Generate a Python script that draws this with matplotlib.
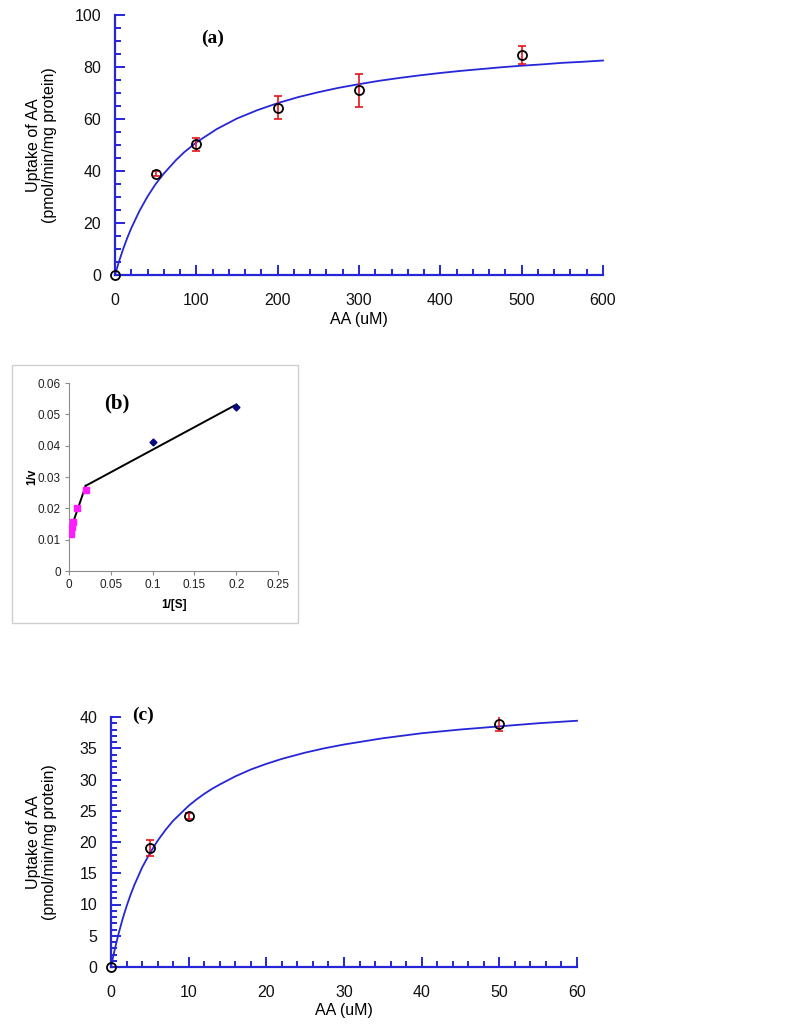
import matplotlib
matplotlib.use("Agg")
import matplotlib.pyplot as plt
from matplotlib.patches import Rectangle
from matplotlib.ticker import MultipleLocator

plt.rcParams['font.family'] = ['Liberation Sans', 'DejaVu Sans']

# ---------------- data ----------------
# panel (a)
a_conc = [0, 50, 100, 200, 300, 500]
a_uptake = [0, 38.9, 50.2, 64.4, 71.1, 84.6]
a_err = [0, 1.0, 2.4, 4.4, 6.4, 3.5]
a_fit_x = [0, 2, 5, 10, 15, 20, 30, 40, 50, 60, 75, 85, 100, 125, 150, 175, 200, 225, 250,
           275, 300, 325, 350, 375, 400, 425, 450, 475, 500, 525, 550, 575, 600]
a_fit_y = [0, 2.17, 5.25, 9.95, 14.2, 18.0, 24.6, 30.2, 35.0, 39.0, 44.2, 47.2, 51.0, 56.1,
           60.2, 63.4, 66.1, 68.4, 70.3, 72.0, 73.4, 74.7, 75.8, 76.8, 77.7, 78.5, 79.2,
           79.9, 80.5, 81.0, 81.6, 82.0, 82.5]

# panel (b) Lineweaver-Burk
b_sq_x = [0.002, 0.0033, 0.005, 0.01, 0.02]
b_sq_y = [0.0119, 0.0141, 0.0155, 0.0200, 0.0257]
b_dm_x = [0.1, 0.2]
b_dm_y = [0.0412, 0.0523]
b_line1_x = [0.001, 0.02]
b_line1_y = [0.0125, 0.0272]
b_line2_x = [0.02, 0.2]
b_line2_y = [0.0272, 0.0531]

# panel (c)
c_conc = [0, 5, 10, 50]
c_uptake = [0, 19.0, 24.2, 38.9]
c_err = [0, 1.3, 0.5, 1.2]
c_fit_x = [0, 0.25, 0.5, 1, 1.5, 2, 2.5, 3, 4, 5, 6, 7, 8, 10, 11, 12, 13, 14, 16, 18, 20,
           22, 25, 27.5, 30, 35, 40, 45, 50, 55, 60]
c_fit_y = [0, 1.5, 2.9, 5.45, 7.7, 9.7, 11.5, 13.1, 15.9, 18.2, 20.2, 21.9, 23.4, 25.8,
           26.8, 27.7, 28.5, 29.2, 30.5, 31.6, 32.5, 33.3, 34.3, 35.0, 35.6, 36.6, 37.4,
           38.0, 38.5, 39.0, 39.4]

BLUE = '#2626d9'
W, H = 800, 1025
fig = plt.figure(figsize=(W / 100, H / 100), dpi=100)


def px_axes(l, r, t, b):
    return fig.add_axes([l / W, 1 - b / H, (r - l) / W, (b - t) / H])


def style_mm(ax, xmax, ymax, xmaj, xmin, ymaj, ymin):
    ax.set_xlim(0, xmax)
    ax.set_ylim(0, ymax)
    for s in ['top', 'right']:
        ax.spines[s].set_visible(False)
    for s in ['left', 'bottom']:
        ax.spines[s].set_color(BLUE)
        ax.spines[s].set_linewidth(1.6)
    ax.xaxis.set_major_locator(MultipleLocator(xmaj))
    ax.xaxis.set_minor_locator(MultipleLocator(xmin))
    ax.yaxis.set_major_locator(MultipleLocator(ymaj))
    ax.yaxis.set_minor_locator(MultipleLocator(ymin))
    ax.tick_params(which='both', direction='in', color=BLUE, width=1.4, labelsize=11.5,
                   labelcolor='#111111')
    ax.tick_params(which='major', length=7)
    ax.tick_params(which='minor', length=4)
    ax.tick_params(axis='x', which='major', pad=13)
    ax.tick_params(axis='y', which='major', pad=10)
    ax.set_facecolor('none')


def mm_panel(ax, cx, cy, ce, fx, fy):
    ax.plot(fx, fy, color=BLUE, lw=1.3, zorder=3, clip_on=False)
    ax.errorbar(cx[1:], cy[1:], yerr=ce[1:], fmt='none', ecolor='#e8141c', elinewidth=1.2,
                capsize=3, capthick=1.2, zorder=4)
    ax.plot(cx, cy, 'o', mfc='none', mec='black', mew=1.3, ms=6.5, zorder=5, clip_on=False)


# ---------- panel (a) ----------
ax_a = px_axes(115, 603, 15, 275)
style_mm(ax_a, 600, 100, 100, 20, 20, 5)
mm_panel(ax_a, a_conc, a_uptake, a_err, a_fit_x, a_fit_y)
ax_a.set_xlabel('AA (uM)', fontsize=11.5)
ax_a.xaxis.set_label_coords(0.5, -0.142)
ax_a.set_ylabel('Uptake of AA\n(pmol/min/mg protein)', fontsize=11.5, linespacing=1.1)
ax_a.yaxis.set_label_coords(-0.119, 0.5)
ax_a.text(120, 91, '(a)', fontsize=14, fontweight='bold', family='Liberation Serif',
          ha='center', va='center')

# ---------- panel (b) ----------
fig.patches.append(Rectangle((12 / W, 1 - 623 / H), (298 - 12) / W, (623 - 365) / H,
                             transform=fig.transFigure, fill=False, edgecolor='#cfcfcf',
                             lw=1.0))
ax_b = px_axes(69, 278, 383, 571)
ax_b.set_xlim(0, 0.25)
ax_b.set_ylim(0, 0.06)
for s in ['top', 'right']:
    ax_b.spines[s].set_visible(False)
for s in ['left', 'bottom']:
    ax_b.spines[s].set_color('#8c8c8c')
    ax_b.spines[s].set_linewidth(0.8)
ax_b.xaxis.set_major_locator(MultipleLocator(0.05))
ax_b.yaxis.set_major_locator(MultipleLocator(0.01))
ax_b.xaxis.set_major_formatter(plt.FuncFormatter(lambda v, p: f'{v:g}'))
ax_b.yaxis.set_major_formatter(plt.FuncFormatter(lambda v, p: f'{v:g}' if v == 0 else f'{v:.2f}'))
ax_b.tick_params(direction='out', length=3, width=0.8, color='#8c8c8c', labelsize=8.5,
                 labelcolor='#222222', pad=3)
ax_b.plot(b_line1_x, b_line1_y, color='black', lw=1.4, zorder=2)
ax_b.plot(b_line2_x, b_line2_y, color='black', lw=1.4, zorder=2)
ax_b.plot(b_sq_x, b_sq_y, 's', color='#ff1aff', ms=4.3, mec='#ff1aff', zorder=3)
ax_b.plot(b_dm_x, b_dm_y, 'D', color='#0a0a80', ms=3.5, zorder=3)
ax_b.set_xlabel('1/[S]', fontsize=8.5, fontweight='bold')
ax_b.xaxis.set_label_coords(0.5, -0.15)
ax_b.set_ylabel('1/v', fontsize=8.5, fontweight='bold')
ax_b.yaxis.set_label_coords(-0.148, 0.5)
ax_b.text(0.057, 0.0534, '(b)', fontsize=15, fontweight='bold', family='Liberation Serif',
          ha='center', va='center')

# ---------- panel (c) ----------
ax_c = px_axes(111, 577, 717, 967)
style_mm(ax_c, 60, 40, 10, 2, 5, 1)
mm_panel(ax_c, c_conc, c_uptake, c_err, c_fit_x, c_fit_y)
ax_c.set_xlabel('AA (uM)', fontsize=11.5)
ax_c.xaxis.set_label_coords(0.5, -0.144)
ax_c.set_ylabel('Uptake of AA\n(pmol/min/mg protein)', fontsize=11.5, linespacing=1.1)
ax_c.yaxis.set_label_coords(-0.116, 0.5)
ax_c.text(4.1, 40.3, '(c)', fontsize=14, fontweight='bold', family='Liberation Serif',
          ha='center', va='center', clip_on=False)

fig.savefig('out.png', dpi=100, facecolor='white')
